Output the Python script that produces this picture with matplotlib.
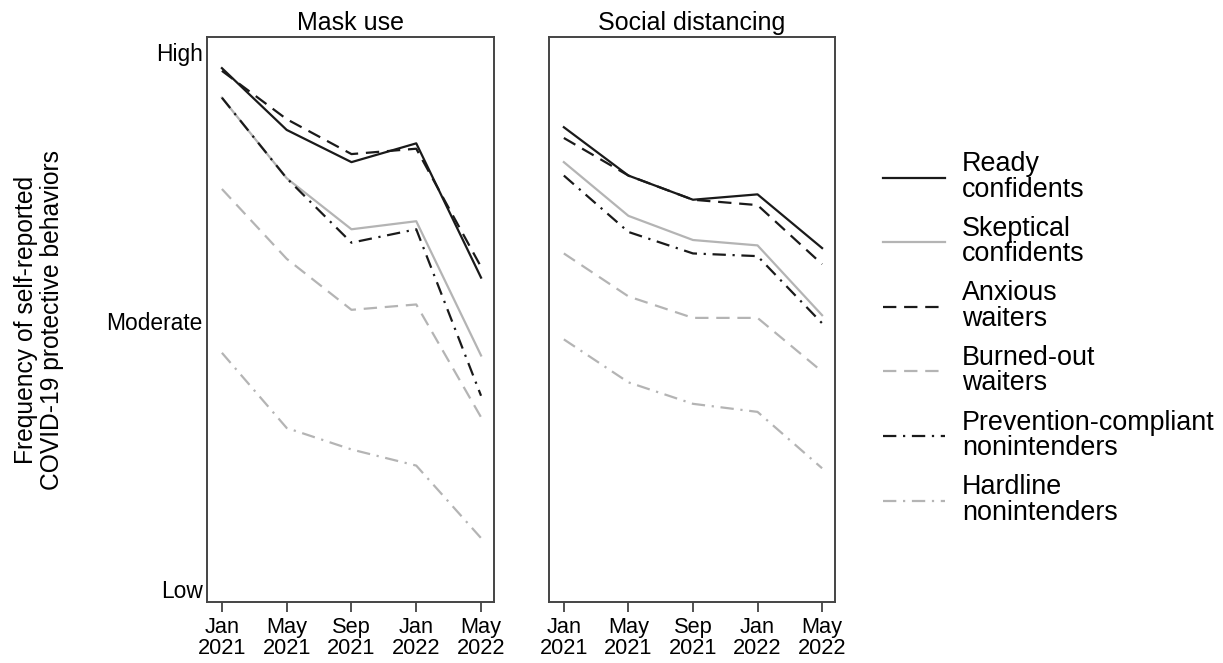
import matplotlib.pyplot as plt
import numpy as np

plt.rcParams['font.family'] = ['Liberation Sans', 'DejaVu Sans']

# data (1 = Low, 2 = Moderate, 3 = High)
waves = ['Jan\n2021', 'May\n2021', 'Sep\n2021', 'Jan\n2022', 'May\n2022']
groups = ['Ready\nconfidents', 'Skeptical\nconfidents', 'Anxious\nwaiters',
          'Burned-out\nwaiters', 'Prevention-compliant\nnonintenders', 'Hardline\nnonintenders']

mask_ready = [2.94, 2.71, 2.59, 2.66, 2.16]
mask_skeptical = [2.83, 2.53, 2.34, 2.37, 1.87]
mask_anxious = [2.93, 2.75, 2.62, 2.64, 2.20]
mask_burned = [2.49, 2.23, 2.04, 2.06, 1.64]
mask_prevention = [2.83, 2.53, 2.29, 2.34, 1.72]
mask_hardline = [1.88, 1.60, 1.52, 1.46, 1.19]

dist_ready = [2.72, 2.54, 2.45, 2.47, 2.27]
dist_skeptical = [2.59, 2.39, 2.30, 2.28, 2.02]
dist_anxious = [2.68, 2.54, 2.45, 2.43, 2.21]
dist_burned = [2.25, 2.09, 2.01, 2.01, 1.81]
dist_prevention = [2.54, 2.33, 2.25, 2.24, 1.99]
dist_hardline = [1.93, 1.77, 1.69, 1.66, 1.45]

black = '#1a1a1a'
gray = '#b4b4b4'
styles = [
    dict(color=black, linestyle='-'),
    dict(color=gray, linestyle='-'),
    dict(color=black, linestyle=(0, (6, 3.5))),
    dict(color=gray, linestyle=(0, (6, 3.5))),
    dict(color=black, linestyle=(0, (6, 3, 1, 3))),
    dict(color=gray, linestyle=(0, (6, 3, 1, 3))),
]

fig = plt.figure(figsize=(12.23, 6.63), dpi=100)
ax1 = fig.add_axes([207 / 1223, 1 - 602 / 663, 287 / 1223, 565 / 663])
ax2 = fig.add_axes([549 / 1223, 1 - 602 / 663, 286 / 1223, 565 / 663])

x = np.arange(len(waves))
panels = [
    (ax1, 'Mask use', [mask_ready, mask_skeptical, mask_anxious, mask_burned, mask_prevention, mask_hardline]),
    (ax2, 'Social distancing', [dist_ready, dist_skeptical, dist_anxious, dist_burned, dist_prevention, dist_hardline]),
]

handles = []
for ax, title, series in panels:
    handles = []
    for vals, st, lab in zip(series, styles, groups):
        h, = ax.plot(x, vals, linewidth=1.6, label=lab, **st)
        handles.append(h)
    ax.set_xlim(-0.23, 4.2)
    ax.set_ylim(0.952, 3.056)
    ax.set_xticks(x)
    ax.set_xticklabels(waves, fontsize=15.7, linespacing=1.0)
    ax.tick_params(axis='x', length=7, width=1.2, color='#333333', pad=4)
    ax.set_title(title, fontsize=18, pad=5)
    for s in ax.spines.values():
        s.set_color('#444444')
        s.set_linewidth(1.4)

ax1.set_yticks([1, 2, 3])
ax1.set_yticklabels(['Low', 'Moderate', 'High'], fontsize=16.4)
ax1.tick_params(axis='y', length=0, pad=3)
ax2.set_yticks([])

fig.text(39 / 1223, 1 - 320 / 663,
         'Frequency of self-reported\nCOVID-19 protective behaviors',
         rotation=90, ha='center', va='center', fontsize=17.7, linespacing=1.1)

leg = fig.legend(handles, groups, loc='upper left', bbox_to_anchor=(859 / 1223, 1 - 127 / 663),
                 frameon=False, handlelength=2.3, handletextpad=0.63,
                 labelspacing=0.49, prop={'size': 19.4})
for t in leg.get_texts():
    t.set_linespacing(0.97)

fig.savefig('out.png', dpi=100)
